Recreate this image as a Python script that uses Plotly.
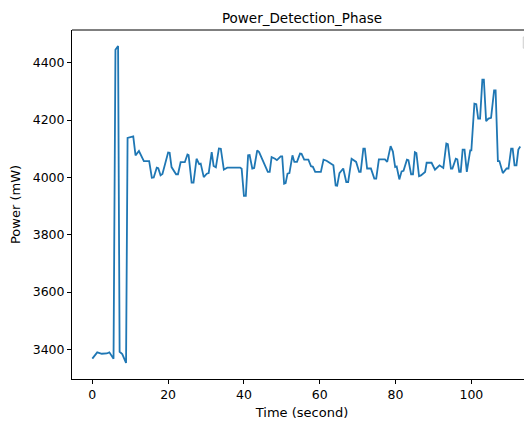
"""Power trace during the detection phase, matplotlib-like look."""

import plotly.graph_objects as go

time_s = [
    0, 0.5, 1.3, 2.5, 3.8, 4.5, 5.2, 5.6, 6.1, 6.8, 7.2, 7.9, 8.9, 9.3, 10.8,
    11.4, 12.3, 12.9, 13.6, 15.0, 15.7, 16.2, 17.0, 17.4, 18.0, 18.5, 19.2,
    20.0, 20.4, 20.9, 22.1, 22.6, 23.3, 24.4, 25.1, 25.4, 26.2, 26.7, 27.5,
    28.2, 28.6, 29.4, 30.2, 30.7, 31.5, 32.0, 32.6, 33.4, 33.9, 34.7, 35.6,
    39.0, 39.4, 40.0, 40.5, 41.1, 41.5, 42.2, 42.7, 43.5, 44.0, 45.1, 46.3,
    46.8, 47.3, 48.2, 48.7, 49.7, 50.1, 50.6, 51.0, 51.5, 52.0, 52.8, 53.3,
    54.0, 54.8, 55.2, 55.9, 57.0, 57.7, 58.2, 58.8, 60.3, 61.0, 61.8, 62.7,
    63.6, 64.2, 64.6, 65.2, 66.2, 67.0, 67.5, 68.4, 69.0, 69.6, 70.4, 70.8,
    71.5, 71.9, 72.5, 73.5, 74.4, 74.9, 75.6, 77.2, 77.8, 78.7, 79.3, 79.9,
    80.3, 81.0, 81.6, 82.1, 83.0, 83.4, 84.1, 84.6, 85.1, 85.5, 86.2, 86.7,
    87.8, 88.2, 89.5, 90.4, 91.6, 92.6, 93.4, 93.8, 94.6, 95.0, 95.9, 96.3,
    96.8, 97.2, 97.7, 98.2, 98.8, 99.7, 100.0, 100.8, 101.3, 101.8, 102.3,
    102.9, 103.3, 103.9, 104.5, 105.2, 106.0, 106.4, 107.0, 107.4, 108.3,
    108.7, 109.3, 109.8, 110.5, 110.9, 111.4, 111.9, 112.4, 112.9,
]
power_mw = [
    3368, 3375, 3390, 3385, 3386, 3390, 3378, 3368, 4445, 4458, 3392, 3384,
    3353, 4138, 4143, 4077, 4092, 4074, 4057, 4057, 3999, 4000, 4034, 4032,
    4007, 4012, 4048, 4087, 4086, 4036, 4011, 4011, 4053, 4053, 4080, 4078,
    3982, 3982, 4065, 4046, 4048, 4001, 4013, 4015, 4088, 4040, 4035, 4101,
    4100, 4027, 4034, 4034, 4030, 3936, 3936, 4077, 4078, 4031, 4033, 4094,
    4088, 4054, 4019, 4019, 4071, 4065, 4060, 4073, 4073, 3978, 3980, 4013,
    4015, 4077, 4054, 4054, 4083, 4082, 4062, 4062, 4039, 4037, 4019, 4019,
    4062, 4058, 4050, 4042, 3972, 3971, 4015, 4031, 3984, 3984, 4065, 4060,
    4054, 4019, 4019, 4100, 4100, 4031, 4031, 3996, 3996, 4063, 4063, 4054,
    4109, 4090, 4036, 4038, 3993, 4021, 4023, 4062, 4060, 4011, 4011, 4088,
    4085, 4004, 4007, 4019, 4051, 4051, 4027, 4042, 4033, 4118, 4116, 4031,
    4031, 4065, 4063, 4019, 4019, 4097, 4097, 4019, 4094, 4094, 4257, 4255,
    4205, 4205, 4341, 4341, 4196, 4205, 4208, 4303, 4303, 4057, 4057, 4015,
    4020, 4031, 4031, 4100, 4100, 4042, 4042, 4097, 4108,
]

x_ticks = [0, 20, 40, 60, 80, 100]
y_ticks = [3400, 3600, 3800, 4000, 4200, 4400]

_FONT = dict(family="DejaVu Sans", color="black", size=12.5)
_AXIS = dict(
    showline=True,
    linecolor="black",
    linewidth=1,
    showgrid=False,
    zeroline=False,
    automargin=False,
    ticks="outside",
    ticklen=4,
    tickwidth=1,
    tickcolor="black",
    tickfont=_FONT,
)

fig = go.Figure()
fig.add_scatter(
    x=time_s,
    y=power_mw,
    mode="lines",
    line=dict(color="#1f77b4", width=1.8),
    showlegend=False,
)

# the page body adds an 8px offset, so the figure is 8px smaller each way
fig.update_layout(
    width=524,
    height=414,
    paper_bgcolor="white",
    plot_bgcolor="white",
    font=_FONT,
    margin=dict(l=64, r=0, t=22, b=43),
    title=dict(
        text="Power_Detection_Phase",
        x=0.5, xref="paper", xanchor="center",
        y=0.974, yref="container", yanchor="middle",
        font=dict(family="DejaVu Sans", size=13.5, color="black"),
    ),
    xaxis=dict(
        **_AXIS,
        range=[-5.36, 116.0],
        tickvals=x_ticks,
        title=dict(text="Time (second)", font=dict(_FONT, size=13), standoff=6),
    ),
    yaxis=dict(
        **_AXIS,
        range=[3297, 4514],
        tickvals=y_ticks,
        title=dict(text="Power (mW)", font=dict(_FONT, size=13), standoff=10),
    ),
    shapes=[
        # top spine
        dict(type="line", xref="paper", yref="paper",
             x0=0, x1=1, y0=1, y1=1, line=dict(color="black", width=1)),
        # empty legend box, as matplotlib draws it when nothing has a label
        dict(type="rect", xref="paper", yref="paper",
             x0=0.981, x1=1.0, y0=0.948, y1=0.98,
             line=dict(color="#cccccc", width=1), fillcolor="white"),
    ],
)

fig.write_html("out.html")
